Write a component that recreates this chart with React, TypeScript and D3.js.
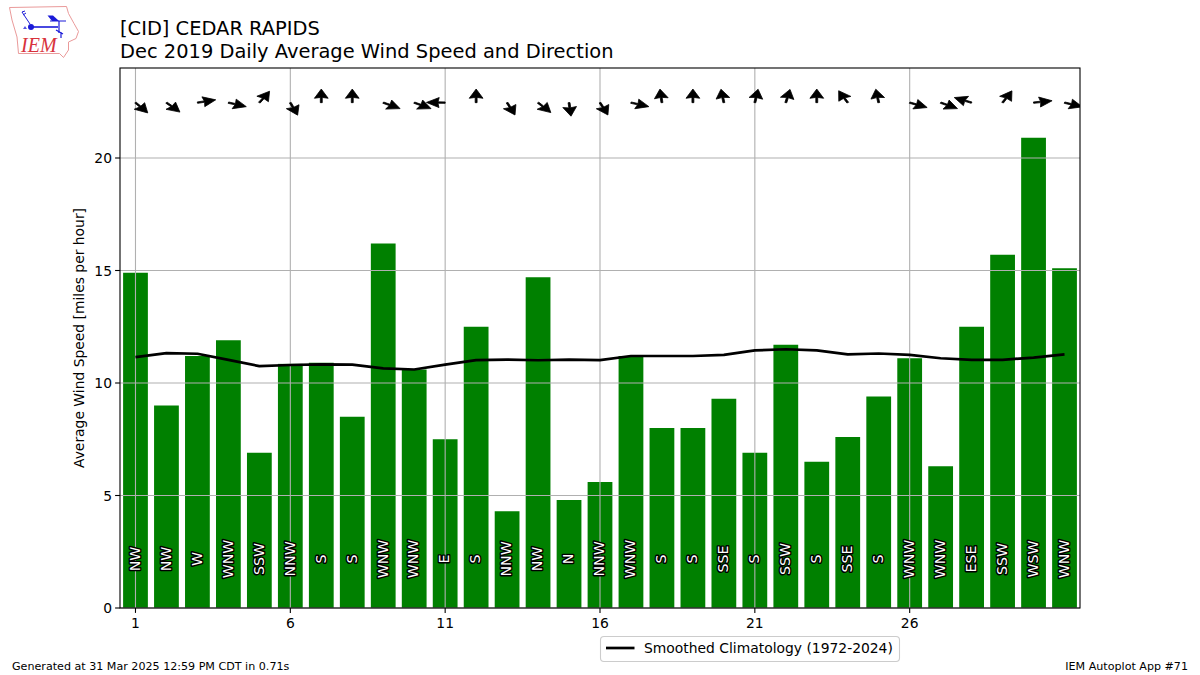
import React from "react";
import * as d3 from "d3";

const days = d3.range(1, 32);
const windSpeed = [14.9, 9.0, 11.2, 11.9, 6.9, 10.85, 10.9, 8.5, 16.2, 10.6, 7.5, 12.5, 4.3, 14.7, 4.8, 5.6, 11.2, 8.0, 8.0, 9.3, 6.9, 11.7, 6.5, 7.6, 9.4, 11.1, 6.3, 12.5, 15.7, 20.9, 15.1];
const windLabel = ["NW", "NW", "W", "WNW", "SSW", "NNW", "S", "S", "WNW", "WNW", "E", "S", "NNW", "NW", "N", "NNW", "WNW", "S", "S", "SSE", "S", "SSW", "S", "SSE", "S", "WNW", "WNW", "ESE", "SSW", "WSW", "WNW"];
const windFrom = [319, 314, 258, 287, 213, 337, 180, 180, 296, 296, 91, 180, 335, 317, 354, 335, 287, 174, 180, 171, 190, 193, 180, 151, 171, 291, 296, 112, 210, 262, 288];
const climatology = [11.15, 11.33, 11.3, 11.03, 10.75, 10.8, 10.83, 10.82, 10.65, 10.6, 10.82, 11.02, 11.04, 11.01, 11.04, 11.02, 11.2, 11.2, 11.2, 11.25, 11.45, 11.5, 11.45, 11.27, 11.31, 11.25, 11.1, 11.03, 11.03, 11.13, 11.27];
const xTicks = [1, 6, 11, 16, 21, 26];
const yTicks = [0, 5, 10, 15, 20];
const arrowLevel = 22.46;

const FONT = "'DejaVu Sans', sans-serif";
const L = 120, R = 1080, T = 68, B = 608;
const x = d3.scaleLinear().domain([0.5, 31.5]).range([L, R]);
const y = d3.scaleLinear().domain([0, 24]).range([B, T]);
const barWidth = x(0.8) - x(0);
const stretch = (x(1) - x(0)) / (y(0) - y(1));

const len = 13.6, headLen = 9.2, headAxis = 8.4, headHalf = 5.0, shaft = 0.7;
const arrowPath = d3.line()([
  [0, -shaft], [len - headAxis, -shaft], [len - headLen, -headHalf], [len, 0],
  [len - headLen, headHalf], [len - headAxis, shaft], [0, shaft],
]) + "Z";

const climoLine = d3.line<number>().x((_, i) => x(days[i])).y((d) => y(d));

function Logo() {
  return (
    <g>
      <path d="M9.5 7.5L66.5 6.5L68.5 13.5L74 23.5L78.5 31.5L76 38.5L68.5 42L68.5 50L63.5 57.5L59.5 53.5L18.5 53.5L17 37L12 20Z" fill="#fff" stroke="#ea9a9a" strokeWidth="1" />
      <g stroke="#1a1ad8" fill="none">
        <path d="M31 27H58" strokeWidth="1.6" />
        <path d="M50 21H66" strokeWidth="1" />
        <path d="M59 21V33" strokeWidth="1.2" />
        <path d="M22 12L30 24M22 12L25 11M23 15L26 13" strokeWidth="1" />
        <path d="M56 30L63 34M61 32V38" strokeWidth="1.2" />
      </g>
      <circle cx="31" cy="27" r="3" fill="#1a1ad8" />
      <path d="M47.5 15.5L53 15.5L59 21L52 21Z" fill="#1a1ad8" />
      <path d="M23 29L25 26L27 29Z" fill="#5555e0" />
      <text x="21" y="52" fontFamily="'Liberation Serif', serif" fontStyle="italic" fontSize="20" fill="#d8323c">IEM</text>
    </g>
  );
}

export default function App() {
  return (
    <svg width={1200} height={675} style={{ position: "absolute", left: 0, top: 0, display: "block", background: "#fff" }} fontFamily={FONT}>
      <defs>
        <clipPath id="axes"><rect x={L} y={T} width={R - L} height={B - T} /></clipPath>
      </defs>
      <Logo />
      <text x={120} y={35} fontSize={19.46} fill="#000">[CID] CEDAR RAPIDS</text>
      <text x={120} y={57.5} fontSize={19.46} fill="#000">Dec 2019 Daily Average Wind Speed and Direction</text>

      {days.map((d, i) => (
        <rect key={d} x={x(d) - barWidth / 2} y={y(windSpeed[i])} width={barWidth} height={B - y(windSpeed[i])} fill="#008000" />
      ))}
      {xTicks.map((t) => (
        <line key={t} x1={x(t)} x2={x(t)} y1={T} y2={B} stroke="#b0b0b0" strokeWidth={1.1} />
      ))}
      {yTicks.map((t) => (
        <line key={t} x1={L} x2={R} y1={y(t)} y2={y(t)} stroke="#b0b0b0" strokeWidth={1.1} />
      ))}

      {days.map((d, i) => (
        <text key={d} transform={`translate(${x(d) - 0.7},${y(2.18)}) rotate(-90)`} textAnchor="middle" dominantBaseline="central" fontSize={14.2} fill="#fff" stroke="#000" strokeWidth={2.8} strokeLinejoin="round" style={{ paintOrder: "stroke" }}>
          {windLabel[i]}
        </text>
      ))}

      <path d={climoLine(climatology) ?? ""} fill="none" stroke="#000" strokeWidth={2.7} strokeLinejoin="round" />

      <g clipPath="url(#axes)">
        {days.map((d, i) => (
          <path key={d} d={arrowPath} fill="#000" stroke="#000" strokeWidth={0.8} strokeLinejoin="miter" vectorEffect="non-scaling-stroke" transform={`translate(${x(d)},${y(arrowLevel)}) scale(${stretch},1) rotate(${windFrom[i] + 180 - 90})`} />
        ))}
      </g>

      <rect x={L} y={T} width={R - L} height={B - T} fill="none" stroke="#000" strokeWidth={1.1} />

      {xTicks.map((t) => (
        <g key={t}>
          <line x1={x(t)} x2={x(t)} y1={B} y2={B + 4.9} stroke="#000" strokeWidth={1.1} />
          <text x={x(t)} y={B + 20} textAnchor="middle" fontSize={13.89} fill="#000">{t}</text>
        </g>
      ))}
      {yTicks.map((t) => (
        <g key={t}>
          <line x1={L - 4.9} x2={L} y1={y(t)} y2={y(t)} stroke="#000" strokeWidth={1.1} />
          <text x={L - 8} y={y(t) + 5} textAnchor="end" fontSize={13.89} fill="#000">{t}</text>
        </g>
      ))}
      <text transform={`translate(83.5,${(T + B) / 2}) rotate(-90)`} textAnchor="middle" fontSize={13.89} fill="#000">Average Wind Speed [miles per hour]</text>

      <rect x={600.5} y={636.5} width={299} height={25} rx={3.5} fill="#fff" stroke="#cccccc" strokeWidth={1.1} />
      <line x1={606} x2={634.5} y1={648} y2={648} stroke="#000" strokeWidth={2.7} />
      <text x={644} y={653} fontSize={13.89} fill="#000">Smoothed Climatology (1972-2024)</text>

      <text x={12} y={670} fontSize={11.11} fill="#000">Generated at 31 Mar 2025 12:59 PM CDT in 0.71s</text>
      <text x={1188} y={670} textAnchor="end" fontSize={11.11} fill="#000">IEM Autoplot App #71</text>
    </svg>
  );
}
